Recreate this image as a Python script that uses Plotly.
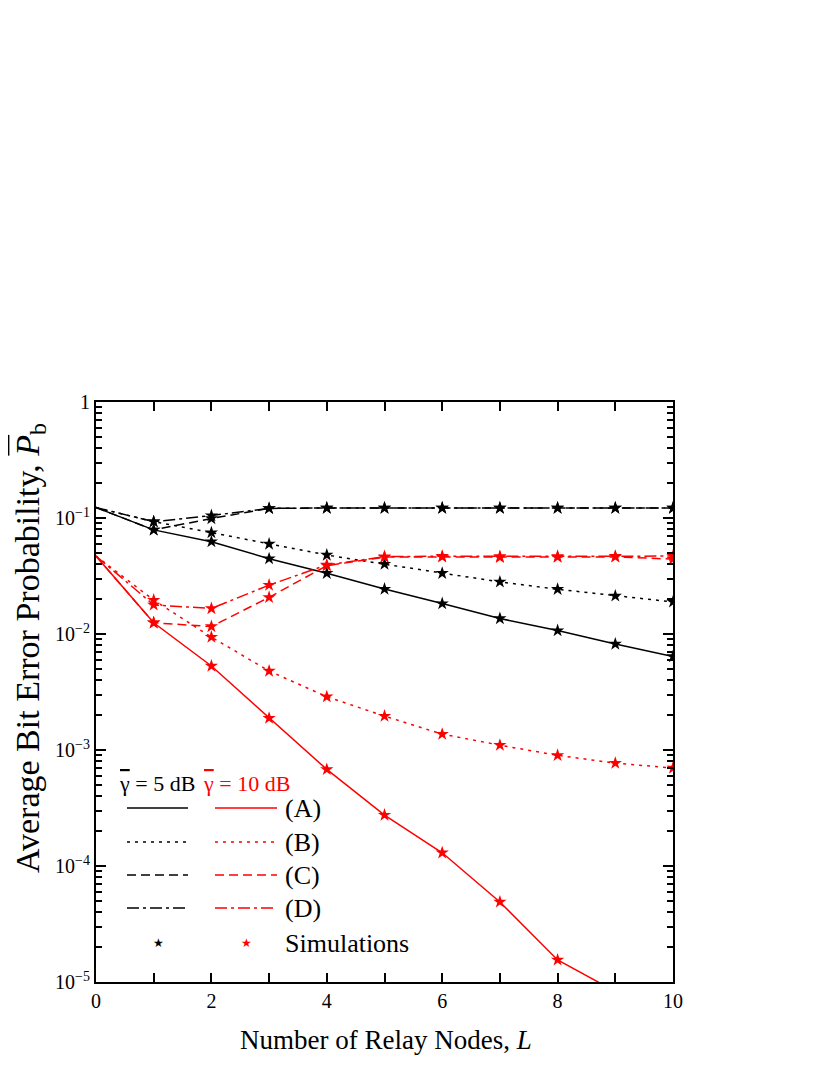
import plotly.graph_objects as go

L = list(range(11))

# average SNR 5 dB (black)
a5 = [0.123, 0.079, 0.0625, 0.0446, 0.0334, 0.0244, 0.0183, 0.0136, 0.0107, 0.0082, 0.0064]
b5 = [0.123, 0.093, 0.0748, 0.0597, 0.048, 0.040, 0.0334, 0.0281, 0.0243, 0.0213, 0.0189]
c5 = [0.123, 0.079, 0.099, 0.121, 0.122, 0.122, 0.122, 0.122, 0.122, 0.122, 0.122]
d5 = [0.123, 0.093, 0.105, 0.121, 0.122, 0.122, 0.122, 0.122, 0.122, 0.122, 0.122]

# average SNR 10 dB (red)
a10 = [0.047, 0.0125, 0.0053, 0.00188, 0.00068, 0.000275, 0.00013, 4.9e-5, 1.55e-5, 8.3e-6, 4.5e-6]
b10 = [0.047, 0.0196, 0.0094, 0.0048, 0.00288, 0.00196, 0.00137, 0.0011, 0.0009, 0.00077, 0.0007]
c10 = [0.047, 0.0125, 0.0116, 0.0207, 0.0388, 0.046, 0.0462, 0.0458, 0.046, 0.0462, 0.0442]
d10 = [0.047, 0.0178, 0.0166, 0.0264, 0.0394, 0.0465, 0.0468, 0.0466, 0.0467, 0.0468, 0.047]

y_ticks = [1, 1e-1, 1e-2, 1e-3, 1e-4, 1e-5]
y_ticktext = ["1", "10<sup>\u22121</sup>", "10<sup>\u22122</sup>", "10<sup>\u22123</sup>",
              "10<sup>\u22124</sup>", "10<sup>\u22125</sup>"]
legend_labels = ["(A)", "(B)", "(C)", "(D)"]

FONT = "Liberation Serif"
RED = "#ff0000"
DASHES = ["solid", "3px,5px", "9px,5px", "12px,4px,3px,4px"]
OVER = "<span style='text-decoration:overline'>%s</span>"

# figure is drawn 8px in from the page corner (body margin)
W, H = 822, 1067
# plot area in page pixels
X0, X1, Y0, Y1 = 96, 673, 402, 982


def px(x):
    return (x - X0) / (X1 - X0)


def py(y):
    return (Y1 - y) / (Y1 - Y0)


fig = go.Figure()

curves = [(a5, b5, c5, d5), (a10, b10, c10, d10)]
colors = ["black", RED]
for group, col in zip(curves, colors):
    for ys, dash in zip(group, DASHES):
        fig.add_trace(go.Scatter(x=L, y=ys, mode="lines",
                                 line=dict(color=col, width=1.5, dash=dash),
                                 showlegend=False, hoverinfo="skip"))
    for ys in group:
        fig.add_trace(go.Scatter(x=L[1:], y=ys[1:], mode="markers",
                                 marker=dict(symbol="star", size=10, color=col,
                                             line=dict(width=0)),
                                 showlegend=False))

# hand-drawn legend
rows_y = [808, 842, 875, 908]
for yy, dash in zip(rows_y, DASHES):
    fig.add_shape(type="line", xref="paper", yref="paper",
                  x0=px(127), x1=px(188), y0=py(yy), y1=py(yy),
                  line=dict(color="black", width=1.5, dash=dash))
    fig.add_shape(type="line", xref="paper", yref="paper",
                  x0=px(215), x1=px(277), y0=py(yy), y1=py(yy),
                  line=dict(color=RED, width=1.5, dash=dash))
for yy, lab in zip(rows_y + [943], legend_labels + ["Simulations"]):
    fig.add_annotation(x=px(283), y=py(yy), xref="paper", yref="paper",
                       text=lab, showarrow=False, xanchor="left", yanchor="middle",
                       font=dict(family=FONT, size=26, color="black"))
for xx, col in [(158, "black"), (246, RED)]:
    fig.add_annotation(x=px(xx), y=py(943), xref="paper", yref="paper",
                       text="\u2605", showarrow=False, xanchor="center", yanchor="middle",
                       font=dict(family="DejaVu Sans", size=12, color=col))
fig.add_annotation(x=px(117), y=py(783), xref="paper", yref="paper",
                   text=OVER % "\u03b3" + " = 5 dB", showarrow=False,
                   xanchor="left", yanchor="middle",
                   font=dict(family=FONT, size=22, color="black"))
fig.add_annotation(x=px(201), y=py(783), xref="paper", yref="paper",
                   text=OVER % "\u03b3" + " = 10 dB", showarrow=False,
                   xanchor="left", yanchor="middle",
                   font=dict(family=FONT, size=22, color=RED))

# axis titles
fig.add_annotation(x=px(386), y=py(1040), xref="paper", yref="paper",
                   text="Number of Relay Nodes, <i>L</i>", showarrow=False,
                   xanchor="center", yanchor="middle",
                   font=dict(family=FONT, size=27, color="black"))
fig.add_annotation(x=px(30), y=py(648), xref="paper", yref="paper",
                   text="Average Bit Error Probability, <i>" + OVER % "P" + "</i><sub>b</sub>",
                   showarrow=False, textangle=-90, xanchor="center", yanchor="middle",
                   font=dict(family=FONT, size=34, color="black"))

minor_y = [m * 10.0 ** e for e in range(-5, 0) for m in range(2, 10)]

fig.update_xaxes(range=[0, 10], dtick=2, tick0=0, ticks="inside", ticklen=9, tickwidth=2,
                 tickcolor="black", showline=True, linewidth=2, linecolor="black",
                 mirror="allticks", showgrid=False, zeroline=False,
                 tickfont=dict(family=FONT, size=20, color="black"),
                 minor=dict(dtick=1, ticks="inside", ticklen=9, tickwidth=2,
                            tickcolor="black", showgrid=False))
fig.update_yaxes(type="log", range=[-5, 0], tickvals=y_ticks, ticktext=y_ticktext,
                 ticks="inside", ticklen=10, tickwidth=2, tickcolor="black",
                 showline=True, linewidth=2, linecolor="black", mirror="allticks",
                 showgrid=False, zeroline=False,
                 tickfont=dict(family=FONT, size=20, color="black"),
                 minor=dict(tickvals=minor_y, ticks="inside", ticklen=6, tickwidth=2,
                            tickcolor="black", showgrid=False))

fig.update_layout(width=W, height=H, plot_bgcolor="white", paper_bgcolor="white",
                  margin=dict(l=X0 - 8, r=W - (X1 - 8), t=Y0 - 8, b=H - (Y1 - 8)),
                  font=dict(family=FONT, color="black"))

fig.write_html("out.html")
